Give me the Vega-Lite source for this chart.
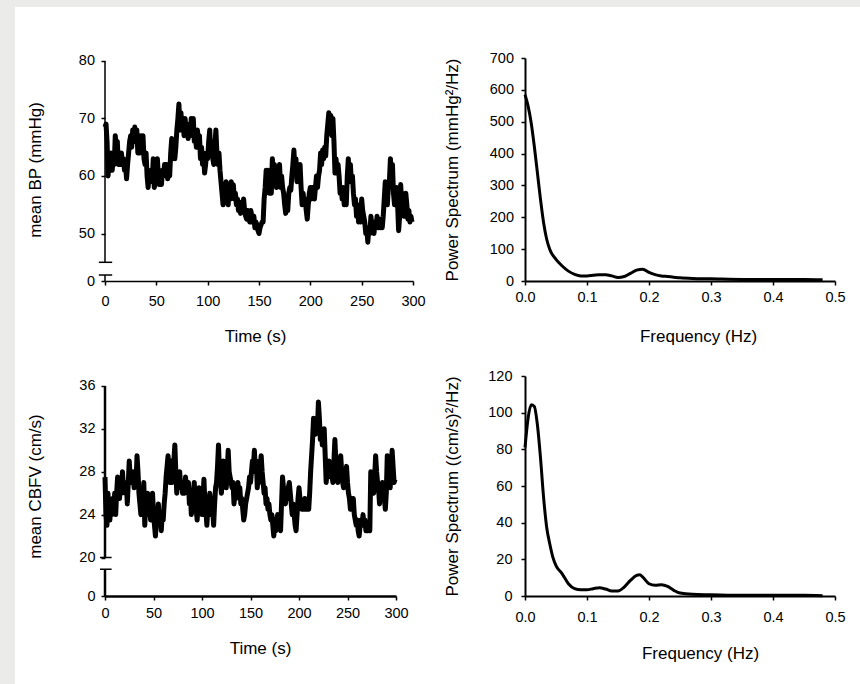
{
"$schema": "https://vega.github.io/schema/vega-lite/v6.json",
"padding": 0,
"background": "white",
"spacing": 0,
"config": {
  "view": {"stroke": null},
  "axis": {"labelFont": "Liberation Sans", "titleFont": "Liberation Sans", "labelFontSize": 14.5, "titleFontSize": 17, "titleFontWeight": "normal", "labelColor": "black", "titleColor": "black", "domainColor": "black", "tickColor": "black", "grid": false, "tickSize": 4, "labelFlush": false, "labelOverlap": false}
},
"datasets": {
  "bp": [{"t":0,"v":68.5},{"t":1,"v":69},{"t":2,"v":66},{"t":3,"v":60},{"t":4,"v":63},{"t":5,"v":61},{"t":6,"v":64},{"t":7,"v":61},{"t":8,"v":63},{"t":9,"v":62},{"t":10,"v":67},{"t":11,"v":65},{"t":12,"v":66},{"t":13,"v":62},{"t":14,"v":64},{"t":15,"v":62},{"t":16,"v":64},{"t":17,"v":62},{"t":18,"v":63},{"t":19,"v":61},{"t":20,"v":62},{"t":21,"v":59.5},{"t":22,"v":62},{"t":23,"v":64},{"t":24,"v":66},{"t":25,"v":67},{"t":26,"v":65},{"t":27,"v":68},{"t":28,"v":66},{"t":29,"v":68.5},{"t":30,"v":67},{"t":31,"v":68},{"t":32,"v":64},{"t":33,"v":66},{"t":34,"v":64},{"t":35,"v":67},{"t":36,"v":65},{"t":37,"v":67},{"t":38,"v":63},{"t":39,"v":62},{"t":40,"v":64},{"t":41,"v":60},{"t":42,"v":58},{"t":43,"v":60},{"t":44,"v":59},{"t":45,"v":61},{"t":46,"v":59},{"t":47,"v":63},{"t":48,"v":58},{"t":49,"v":59},{"t":50,"v":61.5},{"t":51,"v":63},{"t":52,"v":60},{"t":53,"v":58.5},{"t":54,"v":60},{"t":55,"v":58.5},{"t":56,"v":61},{"t":57,"v":60},{"t":58,"v":62},{"t":59,"v":61},{"t":60,"v":62},{"t":61,"v":59.5},{"t":62,"v":61},{"t":63,"v":60},{"t":64,"v":64},{"t":65,"v":66.5},{"t":66,"v":63},{"t":67,"v":66},{"t":68,"v":63},{"t":69,"v":65},{"t":70,"v":68},{"t":71,"v":70},{"t":72,"v":72.5},{"t":73,"v":68},{"t":74,"v":71},{"t":75,"v":68},{"t":76,"v":70},{"t":77,"v":67},{"t":78,"v":70},{"t":79,"v":68},{"t":80,"v":69},{"t":81,"v":66.5},{"t":82,"v":69},{"t":83,"v":67},{"t":84,"v":70},{"t":85,"v":68},{"t":86,"v":70},{"t":87,"v":66},{"t":88,"v":67},{"t":89,"v":65},{"t":90,"v":68},{"t":91,"v":66},{"t":92,"v":67},{"t":93,"v":63},{"t":94,"v":65},{"t":95,"v":62},{"t":96,"v":64},{"t":97,"v":60.5},{"t":98,"v":62},{"t":99,"v":64},{"t":100,"v":63},{"t":101,"v":66},{"t":102,"v":68},{"t":103,"v":64},{"t":104,"v":66},{"t":105,"v":63},{"t":106,"v":62},{"t":107,"v":65},{"t":108,"v":68},{"t":109,"v":64},{"t":110,"v":62},{"t":111,"v":64},{"t":112,"v":61},{"t":113,"v":59},{"t":114,"v":57},{"t":115,"v":55},{"t":116,"v":58},{"t":117,"v":56},{"t":118,"v":59},{"t":119,"v":57},{"t":120,"v":55},{"t":121,"v":58},{"t":122,"v":56},{"t":123,"v":59},{"t":124,"v":57},{"t":125,"v":58.5},{"t":126,"v":56},{"t":127,"v":57},{"t":128,"v":55},{"t":129,"v":56},{"t":130,"v":54},{"t":131,"v":55.5},{"t":132,"v":53.5},{"t":133,"v":55},{"t":134,"v":54},{"t":135,"v":56},{"t":136,"v":54},{"t":137,"v":53},{"t":138,"v":52.5},{"t":139,"v":54},{"t":140,"v":53},{"t":141,"v":52},{"t":142,"v":54},{"t":143,"v":53},{"t":144,"v":52},{"t":145,"v":53},{"t":146,"v":51},{"t":147,"v":52},{"t":148,"v":51.5},{"t":149,"v":50.5},{"t":150,"v":50},{"t":151,"v":51},{"t":152,"v":51.5},{"t":153,"v":52},{"t":154,"v":52},{"t":155,"v":56},{"t":156,"v":58},{"t":157,"v":61},{"t":158,"v":59},{"t":159,"v":61},{"t":160,"v":57},{"t":161,"v":60},{"t":162,"v":57},{"t":163,"v":63},{"t":164,"v":60},{"t":165,"v":62},{"t":166,"v":59},{"t":167,"v":58},{"t":168,"v":61},{"t":169,"v":59},{"t":170,"v":62},{"t":171,"v":58},{"t":172,"v":60},{"t":173,"v":58},{"t":174,"v":57},{"t":175,"v":55},{"t":176,"v":53.5},{"t":177,"v":56},{"t":178,"v":54},{"t":179,"v":57},{"t":180,"v":58},{"t":181,"v":57.5},{"t":182,"v":60},{"t":183,"v":62},{"t":184,"v":64.5},{"t":185,"v":61},{"t":186,"v":63},{"t":187,"v":59},{"t":188,"v":61},{"t":189,"v":59},{"t":190,"v":62},{"t":191,"v":58},{"t":192,"v":55},{"t":193,"v":57},{"t":194,"v":55},{"t":195,"v":56},{"t":196,"v":54},{"t":197,"v":52.5},{"t":198,"v":55},{"t":199,"v":57},{"t":200,"v":58},{"t":201,"v":56},{"t":202,"v":58},{"t":203,"v":57},{"t":204,"v":56},{"t":205,"v":58},{"t":206,"v":60},{"t":207,"v":58},{"t":208,"v":60},{"t":209,"v":61},{"t":210,"v":64},{"t":211,"v":62},{"t":212,"v":64.5},{"t":213,"v":63},{"t":214,"v":65},{"t":215,"v":63.5},{"t":216,"v":67},{"t":217,"v":69},{"t":218,"v":71},{"t":219,"v":68},{"t":220,"v":70.5},{"t":221,"v":67},{"t":222,"v":70},{"t":223,"v":66},{"t":224,"v":60.5},{"t":225,"v":63},{"t":226,"v":61},{"t":227,"v":62},{"t":228,"v":60},{"t":229,"v":57},{"t":230,"v":58},{"t":231,"v":56},{"t":232,"v":58},{"t":233,"v":55},{"t":234,"v":57},{"t":235,"v":55},{"t":236,"v":60},{"t":237,"v":63},{"t":238,"v":59},{"t":239,"v":62},{"t":240,"v":59},{"t":241,"v":60},{"t":242,"v":57},{"t":243,"v":55},{"t":244,"v":56},{"t":245,"v":53},{"t":246,"v":55},{"t":247,"v":52},{"t":248,"v":54},{"t":249,"v":52},{"t":250,"v":56},{"t":251,"v":54},{"t":252,"v":53},{"t":253,"v":52},{"t":254,"v":50},{"t":255,"v":51},{"t":256,"v":48.5},{"t":257,"v":51},{"t":258,"v":50},{"t":259,"v":53},{"t":260,"v":51},{"t":261,"v":52},{"t":262,"v":50},{"t":263,"v":52},{"t":264,"v":51},{"t":265,"v":53},{"t":266,"v":51},{"t":267,"v":52},{"t":268,"v":51},{"t":269,"v":52.5},{"t":270,"v":51},{"t":271,"v":53},{"t":272,"v":56},{"t":273,"v":59},{"t":274,"v":57},{"t":275,"v":55},{"t":276,"v":58},{"t":277,"v":59},{"t":278,"v":63},{"t":279,"v":60},{"t":280,"v":62},{"t":281,"v":57},{"t":282,"v":55},{"t":283,"v":56},{"t":284,"v":58},{"t":285,"v":55},{"t":286,"v":50.5},{"t":287,"v":53},{"t":288,"v":58.5},{"t":289,"v":55},{"t":290,"v":57},{"t":291,"v":53},{"t":292,"v":55},{"t":293,"v":57},{"t":294,"v":55},{"t":295,"v":52.5},{"t":296,"v":54},{"t":297,"v":52},{"t":298,"v":53},{"t":299,"v":52}],
  "cbfv": [{"t":0,"v":27.5},{"t":1,"v":24},{"t":2,"v":23},{"t":3,"v":26},{"t":4,"v":24.5},{"t":5,"v":23.5},{"t":6,"v":25},{"t":7,"v":24},{"t":8,"v":25.5},{"t":9,"v":24.5},{"t":10,"v":26},{"t":11,"v":24},{"t":12,"v":26},{"t":13,"v":27.5},{"t":14,"v":26},{"t":15,"v":25.5},{"t":16,"v":27},{"t":17,"v":26},{"t":18,"v":28},{"t":19,"v":26.5},{"t":20,"v":27},{"t":21,"v":26},{"t":22,"v":27},{"t":23,"v":25},{"t":24,"v":27},{"t":25,"v":29},{"t":26,"v":27.5},{"t":27,"v":28},{"t":28,"v":27},{"t":29,"v":28},{"t":30,"v":26.5},{"t":31,"v":27.5},{"t":32,"v":27},{"t":33,"v":29.5},{"t":34,"v":28},{"t":35,"v":26},{"t":36,"v":25},{"t":37,"v":24},{"t":38,"v":26},{"t":39,"v":25},{"t":40,"v":27},{"t":41,"v":23},{"t":42,"v":25},{"t":43,"v":24},{"t":44,"v":26},{"t":45,"v":24.5},{"t":46,"v":25.5},{"t":47,"v":23.5},{"t":48,"v":25},{"t":49,"v":26},{"t":50,"v":24},{"t":51,"v":23},{"t":52,"v":22},{"t":53,"v":23.5},{"t":54,"v":24},{"t":55,"v":25},{"t":56,"v":23.5},{"t":57,"v":24},{"t":58,"v":22.5},{"t":59,"v":24},{"t":60,"v":23.5},{"t":61,"v":25},{"t":62,"v":26},{"t":63,"v":27.5},{"t":64,"v":28.5},{"t":65,"v":29.5},{"t":66,"v":27.5},{"t":67,"v":27},{"t":68,"v":29},{"t":69,"v":27},{"t":70,"v":28},{"t":71,"v":29},{"t":72,"v":30.5},{"t":73,"v":28},{"t":74,"v":26},{"t":75,"v":27.5},{"t":76,"v":27},{"t":77,"v":28},{"t":78,"v":26.5},{"t":79,"v":27},{"t":80,"v":26},{"t":81,"v":27},{"t":82,"v":26},{"t":83,"v":27.5},{"t":84,"v":26.5},{"t":85,"v":26},{"t":86,"v":27},{"t":87,"v":25},{"t":88,"v":26},{"t":89,"v":24},{"t":90,"v":25},{"t":91,"v":26},{"t":92,"v":27},{"t":93,"v":25},{"t":94,"v":24.5},{"t":95,"v":23.5},{"t":96,"v":25},{"t":97,"v":26.5},{"t":98,"v":25},{"t":99,"v":25.5},{"t":100,"v":24},{"t":101,"v":25.5},{"t":102,"v":27.3},{"t":103,"v":25},{"t":104,"v":24.5},{"t":105,"v":23},{"t":106,"v":24.5},{"t":107,"v":25},{"t":108,"v":26},{"t":109,"v":25},{"t":110,"v":24},{"t":111,"v":24.5},{"t":112,"v":23},{"t":113,"v":25},{"t":114,"v":26.5},{"t":115,"v":27},{"t":116,"v":28.5},{"t":117,"v":30.5},{"t":118,"v":28},{"t":119,"v":27},{"t":120,"v":26},{"t":121,"v":27.5},{"t":122,"v":29},{"t":123,"v":27},{"t":124,"v":28},{"t":125,"v":26.5},{"t":126,"v":28},{"t":127,"v":30},{"t":128,"v":28},{"t":129,"v":27.5},{"t":130,"v":27},{"t":131,"v":26.5},{"t":132,"v":27},{"t":133,"v":25},{"t":134,"v":26},{"t":135,"v":25.5},{"t":136,"v":26},{"t":137,"v":27},{"t":138,"v":26},{"t":139,"v":26.5},{"t":140,"v":25},{"t":141,"v":25.5},{"t":142,"v":24.5},{"t":143,"v":23.5},{"t":144,"v":24},{"t":145,"v":25},{"t":146,"v":25.5},{"t":147,"v":26},{"t":148,"v":26.5},{"t":149,"v":27.5},{"t":150,"v":27},{"t":151,"v":28},{"t":152,"v":29},{"t":153,"v":28.5},{"t":154,"v":30},{"t":155,"v":28},{"t":156,"v":29},{"t":157,"v":26.5},{"t":158,"v":28},{"t":159,"v":27},{"t":160,"v":28.5},{"t":161,"v":29.5},{"t":162,"v":28},{"t":163,"v":27},{"t":164,"v":26},{"t":165,"v":26.5},{"t":166,"v":25},{"t":167,"v":25.5},{"t":168,"v":24.5},{"t":169,"v":25},{"t":170,"v":24},{"t":171,"v":23.5},{"t":172,"v":24},{"t":173,"v":23},{"t":174,"v":22},{"t":175,"v":23},{"t":176,"v":22.5},{"t":177,"v":23.5},{"t":178,"v":24},{"t":179,"v":23.5},{"t":180,"v":23},{"t":181,"v":22.5},{"t":182,"v":25},{"t":183,"v":27.5},{"t":184,"v":26.5},{"t":185,"v":25.5},{"t":186,"v":25},{"t":187,"v":26},{"t":188,"v":25.5},{"t":189,"v":26.5},{"t":190,"v":27},{"t":191,"v":26},{"t":192,"v":25},{"t":193,"v":24},{"t":194,"v":25},{"t":195,"v":24},{"t":196,"v":23},{"t":197,"v":22.5},{"t":198,"v":24},{"t":199,"v":25.5},{"t":200,"v":26.5},{"t":201,"v":25.5},{"t":202,"v":25},{"t":203,"v":24.5},{"t":204,"v":25},{"t":205,"v":24.5},{"t":206,"v":25.5},{"t":207,"v":25},{"t":208,"v":24.5},{"t":209,"v":25},{"t":210,"v":24.5},{"t":211,"v":26},{"t":212,"v":28},{"t":213,"v":29.5},{"t":214,"v":31},{"t":215,"v":33},{"t":216,"v":32},{"t":217,"v":31.5},{"t":218,"v":33},{"t":219,"v":32},{"t":220,"v":34.5},{"t":221,"v":33},{"t":222,"v":31},{"t":223,"v":32},{"t":224,"v":30.5},{"t":225,"v":31},{"t":226,"v":32},{"t":227,"v":29.5},{"t":228,"v":27},{"t":229,"v":28},{"t":230,"v":27.5},{"t":231,"v":29},{"t":232,"v":28},{"t":233,"v":28.5},{"t":234,"v":27.5},{"t":235,"v":27},{"t":236,"v":29},{"t":237,"v":31},{"t":238,"v":29},{"t":239,"v":28},{"t":240,"v":27},{"t":241,"v":28.5},{"t":242,"v":27.5},{"t":243,"v":29.5},{"t":244,"v":28},{"t":245,"v":27},{"t":246,"v":26.5},{"t":247,"v":27.5},{"t":248,"v":27},{"t":249,"v":28.5},{"t":250,"v":27},{"t":251,"v":26},{"t":252,"v":25.5},{"t":253,"v":24.5},{"t":254,"v":25.5},{"t":255,"v":24.5},{"t":256,"v":25.5},{"t":257,"v":24},{"t":258,"v":23.5},{"t":259,"v":23},{"t":260,"v":23.5},{"t":261,"v":22.5},{"t":262,"v":22},{"t":263,"v":23},{"t":264,"v":23.5},{"t":265,"v":23},{"t":266,"v":24},{"t":267,"v":23},{"t":268,"v":23.5},{"t":269,"v":22.5},{"t":270,"v":23},{"t":271,"v":22.5},{"t":272,"v":23},{"t":273,"v":22.5},{"t":274,"v":28},{"t":275,"v":27},{"t":276,"v":26.5},{"t":277,"v":26},{"t":278,"v":27.5},{"t":279,"v":29.5},{"t":280,"v":28},{"t":281,"v":27},{"t":282,"v":26.5},{"t":283,"v":25},{"t":284,"v":26},{"t":285,"v":26.5},{"t":286,"v":27},{"t":287,"v":26},{"t":288,"v":25.5},{"t":289,"v":24.5},{"t":290,"v":26},{"t":291,"v":29.5},{"t":292,"v":28},{"t":293,"v":27.5},{"t":294,"v":26.5},{"t":295,"v":28},{"t":296,"v":30},{"t":297,"v":28.5},{"t":298,"v":27},{"t":299,"v":27.3}],
  "bpspec": [{"f":0,"p":585},{"f":0.005,"p":549},{"f":0.01,"p":496},{"f":0.015,"p":423},{"f":0.02,"p":340},{"f":0.025,"p":256},{"f":0.03,"p":183},{"f":0.035,"p":131},{"f":0.04,"p":99},{"f":0.05,"p":68},{"f":0.06,"p":47},{"f":0.07,"p":31},{"f":0.08,"p":21},{"f":0.09,"p":16},{"f":0.1,"p":16},{"f":0.11,"p":18},{"f":0.12,"p":20},{"f":0.13,"p":20},{"f":0.14,"p":16},{"f":0.15,"p":11},{"f":0.16,"p":14},{"f":0.17,"p":24},{"f":0.18,"p":34},{"f":0.19,"p":37},{"f":0.2,"p":27},{"f":0.21,"p":20},{"f":0.22,"p":16},{"f":0.23,"p":14},{"f":0.24,"p":12},{"f":0.25,"p":10},{"f":0.27,"p":8},{"f":0.3,"p":7},{"f":0.35,"p":5},{"f":0.4,"p":5},{"f":0.45,"p":5},{"f":0.48,"p":4}],
  "cbspec": [{"f":0,"p":81},{"f":0.005,"p":97},{"f":0.01,"p":104.3},{"f":0.015,"p":103.4},{"f":0.02,"p":93.4},{"f":0.025,"p":75.4},{"f":0.03,"p":53.7},{"f":0.035,"p":37.4},{"f":0.04,"p":28.4},{"f":0.045,"p":21.1},{"f":0.05,"p":16.6},{"f":0.06,"p":12.1},{"f":0.07,"p":6.7},{"f":0.08,"p":4},{"f":0.09,"p":3.4},{"f":0.1,"p":3.4},{"f":0.11,"p":4},{"f":0.12,"p":4.5},{"f":0.13,"p":3.8},{"f":0.14,"p":2.7},{"f":0.15,"p":2.7},{"f":0.16,"p":4.9},{"f":0.17,"p":8.5},{"f":0.18,"p":11.2},{"f":0.185,"p":11.6},{"f":0.19,"p":10.3},{"f":0.2,"p":6.7},{"f":0.21,"p":5.8},{"f":0.22,"p":6.1},{"f":0.23,"p":5.2},{"f":0.24,"p":3.1},{"f":0.25,"p":1.6},{"f":0.27,"p":0.9},{"f":0.3,"p":0.7},{"f":0.35,"p":0.4},{"f":0.4,"p":0.4},{"f":0.45,"p":0.4},{"f":0.48,"p":0.2}]
},
"vconcat": [
  {"width": 860, "height": 7, "view": {"fill": "#ebecea", "stroke": null}, "data": {"values": []}, "mark": "point"},
  {"hconcat": [
    {"width": 15, "height": 677, "view": {"fill": "#ebecea", "stroke": null}, "data": {"values": []}, "mark": "point"},
    {"vconcat": [
      {"width": 1, "height": 43, "view": {"fill": "white", "stroke": null}, "data": {"values": []}, "mark": "point"},
      {"concat": [
        {"width": 308, "height": 223,
         "encoding": {
           "x": {"field": "t", "type": "quantitative", "scale": {"domain": [0, 300], "nice": false, "zero": false}, "axis": {"values": [0,50,100,150,200,250,300], "title": "Time (s)", "titleX": 150, "titleY": 60.5, "titleBaseline": "alphabetic", "labelPadding": 9, "domainWidth": 1.5, "tickWidth": 1.5}},
           "y": {"field": "v", "type": "quantitative", "scale": {"domain": [0, 45, 80.5], "range": [223, 204.3, 0], "nice": false, "zero": false}, "axis": {"values": [0,50,60,70,80], "title": "mean BP (mmHg)", "domain": false, "titleX": -64.5, "titleBaseline": "alphabetic", "labelPadding": 6.5, "tickWidth": 1.5}}
         },
         "layer": [
           {"data": {"name": "bp"}, "mark": {"type": "line", "color": "black", "strokeWidth": 5, "strokeJoin": "round"}},
           {"data": {"values": [{"t": 0, "v": 45, "v2": 80}, {"t": 0, "v": 0, "v2": 14.4}]}, "mark": {"type": "rule", "color": "black", "strokeWidth": 1.5}, "encoding": {"y2": {"field": "v2"}}},
           {"data": {"values": [{"t": -6, "t2": 7, "v": 45}, {"t": -6, "t2": 7, "v": 14.4}]}, "mark": {"type": "rule", "color": "black", "strokeWidth": 1.5}, "encoding": {"x2": {"field": "t2"}}}
         ]
        },
        {"width": 310, "height": 223,
         "data": {"name": "bpspec"},
         "mark": {"type": "line", "color": "black", "strokeWidth": 3, "interpolate": "monotone"},
         "encoding": {
           "x": {"field": "f", "type": "quantitative", "scale": {"domain": [0, 0.5], "nice": false, "zero": false}, "axis": {"values": [0,0.1,0.2,0.3,0.4,0.5], "format": ".1f", "title": "Frequency (Hz)", "titleX": 173, "titleY": 60.5, "titleBaseline": "alphabetic", "labelPadding": 5, "domainWidth": 2, "tickWidth": 1.5}},
           "y": {"field": "p", "type": "quantitative", "scale": {"domain": [0, 700], "nice": false}, "axis": {"values": [0,100,200,300,400,500,600,700], "title": "Power Spectrum (mmHg²/Hz)", "titleX": -68, "titleBaseline": "alphabetic", "labelPadding": 7.5, "domainWidth": 2, "tickWidth": 1.5}}
         }
        },
        {"width": 291, "height": 220,
         "encoding": {
           "x": {"field": "t", "type": "quantitative", "scale": {"domain": [0, 300], "nice": false, "zero": false}, "axis": {"values": [0,50,100,150,200,250,300], "title": "Time (s)", "titleX": 155, "titleY": 57.5, "titleBaseline": "alphabetic", "labelPadding": 6, "domainWidth": 2.5, "tickWidth": 1.5}},
           "y": {"field": "v", "type": "quantitative", "scale": {"domain": [0, 20, 36.93], "range": [220, 181.5, 0], "nice": false, "zero": false}, "axis": {"values": [0,20,24,28,32,36], "title": "mean CBFV (cm/s)", "domain": false, "titleX": -64.5, "titleBaseline": "alphabetic", "labelPadding": 6, "tickWidth": 1.5}}
         },
         "layer": [
           {"data": {"name": "cbfv"}, "mark": {"type": "line", "color": "black", "strokeWidth": 5, "strokeJoin": "round"}},
           {"data": {"values": [{"t": 0, "v": 20, "v2": 36}, {"t": 0, "v": 0, "v2": 13.9}]}, "mark": {"type": "rule", "color": "black", "strokeWidth": 2.5}, "encoding": {"y2": {"field": "v2"}}},
           {"data": {"values": [{"t": -5.2, "t2": 6.8, "v": 20}, {"t": -5.2, "t2": 6.8, "v": 13.9}]}, "mark": {"type": "rule", "color": "black", "strokeWidth": 1.5}, "encoding": {"x2": {"field": "t2"}}}
         ]
        },
        {"width": 310, "height": 220,
         "data": {"name": "cbspec"},
         "mark": {"type": "line", "color": "black", "strokeWidth": 3, "interpolate": "monotone"},
         "encoding": {
           "x": {"field": "f", "type": "quantitative", "scale": {"domain": [0, 0.5], "nice": false, "zero": false}, "axis": {"values": [0,0.1,0.2,0.3,0.4,0.5], "format": ".1f", "title": "Frequency (Hz)", "titleX": 175, "titleY": 62, "titleBaseline": "alphabetic", "labelPadding": 10, "domainWidth": 2, "tickWidth": 1.5}},
           "y": {"field": "p", "type": "quantitative", "scale": {"domain": [0, 120], "nice": false}, "axis": {"values": [0,20,40,60,80,100,120], "title": "Power Spectrum ((cm/s)²/Hz)", "titleX": -68, "titleBaseline": "alphabetic", "labelPadding": 9, "domainWidth": 2, "tickWidth": 1.5}}
         }
        }
      ], "columns": 2, "spacing": {"row": 95, "column": 112}, "bounds": "flush"}
    ], "spacing": 0}
  ], "spacing": 11}
]
}
